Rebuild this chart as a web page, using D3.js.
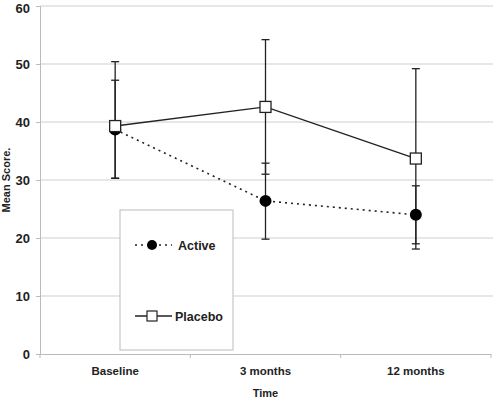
<!DOCTYPE html>
<html>
<head>
<meta charset="utf-8">
<script src="https://cdn.jsdelivr.net/npm/d3@7"></script>
<style>
  body { margin: 0; background: #fff; }
  text { font-family: "Liberation Sans", Arial, sans-serif; font-weight: bold; fill: #222; }
</style>
</head>
<body>
<div id="chart"></div>
<script>
var categories = ["Baseline", "3 months", "12 months"];
var yTicks = [0, 10, 20, 30, 40, 50, 60];

// means and error bar ends
var activeMean  = [38.7, 26.4, 24.0];
var activeLow   = [30.3, 19.8, 19.0];
var activeHigh  = [47.2, 32.9, 29.0];
var placeboMean = [39.3, 42.6, 33.7];
var placeboLow  = [30.3, 31.0, 18.1];
var placeboHigh = [50.4, 54.2, 49.2];

var width = 493, height = 399;
var margin = { top: 6, right: 2, bottom: 45, left: 40 };

var svg = d3.select("#chart").append("svg")
  .attr("width", width)
  .attr("height", height);

var x = d3.scaleBand()
  .domain(categories)
  .range([margin.left, width - margin.right]);

var y = d3.scaleLinear()
  .domain([0, 60])
  .range([height - margin.bottom, margin.top]);

// gridlines
svg.append("g")
  .selectAll("line")
  .data(yTicks.filter(function(d){ return d > 0; }))
  .enter().append("line")
  .attr("x1", margin.left).attr("x2", width)
  .attr("y1", function(d){ return y(d); })
  .attr("y2", function(d){ return y(d); })
  .attr("stroke", "#cfcfcf")
  .attr("stroke-width", 1);

// y axis
var yAxis = svg.append("g")
  .attr("transform", "translate(" + margin.left + ",0)")
  .call(d3.axisLeft(y).tickValues(yTicks).tickSize(4).tickPadding(6));
yAxis.select(".domain").attr("stroke", "#bbb");
yAxis.selectAll(".tick line").attr("stroke", "#bbb");
yAxis.selectAll("text").attr("font-size", "13px").attr("fill", "#222");
// keep the top label inside the picture
yAxis.selectAll("text").filter(function(d){ return d === 60; }).attr("dy", "0.5em");

// x axis
var xAxis = svg.append("g")
  .attr("transform", "translate(0," + y(0) + ")")
  .call(d3.axisBottom(x).tickSize(0).tickPadding(13));
xAxis.select(".domain").attr("stroke", "#bbb");
xAxis.selectAll("text").attr("font-size", "11.5px").attr("fill", "#222");

var bounds = categories.map(function(c){ return x(c); }).concat([x.range()[1]]);
svg.append("g")
  .selectAll("line")
  .data(bounds)
  .enter().append("line")
  .attr("x1", function(d){ return d; }).attr("x2", function(d){ return d; })
  .attr("y1", y(0)).attr("y2", y(0) + 4)
  .attr("stroke", "#bbb");

function cx(i) { return x(categories[i]) + x.bandwidth() / 2; }

// error bars
function errorBars(low, high) {
  var g = svg.append("g").attr("stroke", "#222").attr("stroke-width", 1.3);
  categories.forEach(function(c, i) {
    g.append("line")
      .attr("x1", cx(i)).attr("x2", cx(i))
      .attr("y1", y(low[i])).attr("y2", y(high[i]));
    [low[i], high[i]].forEach(function(v) {
      g.append("line")
        .attr("x1", cx(i) - 4).attr("x2", cx(i) + 4)
        .attr("y1", y(v)).attr("y2", y(v));
    });
  });
}
errorBars(activeLow, activeHigh);
errorBars(placeboLow, placeboHigh);

var line = d3.line()
  .x(function(d, i){ return cx(i); })
  .y(function(d){ return y(d); });

svg.append("path")
  .datum(activeMean)
  .attr("d", line)
  .attr("fill", "none")
  .attr("stroke", "#222")
  .attr("stroke-width", 1.6)
  .attr("stroke-dasharray", "2,4");

svg.append("path")
  .datum(placeboMean)
  .attr("d", line)
  .attr("fill", "none")
  .attr("stroke", "#222")
  .attr("stroke-width", 1.4);

svg.append("g")
  .selectAll("circle")
  .data(activeMean)
  .enter().append("circle")
  .attr("cx", function(d, i){ return cx(i); })
  .attr("cy", function(d){ return y(d); })
  .attr("r", 6)
  .attr("fill", "#000");

svg.append("g")
  .selectAll("rect")
  .data(placeboMean)
  .enter().append("rect")
  .attr("x", function(d, i){ return cx(i) - 5.5; })
  .attr("y", function(d){ return y(d) - 5.5; })
  .attr("width", 11).attr("height", 11)
  .attr("fill", "#fff")
  .attr("stroke", "#222")
  .attr("stroke-width", 1.3);

// legend
var legend = svg.append("g").attr("transform", "translate(120,210)");
legend.append("rect")
  .attr("width", 113).attr("height", 140)
  .attr("fill", "#fff")
  .attr("stroke", "#bbb");

legend.append("line")
  .attr("x1", 15).attr("x2", 52).attr("y1", 35).attr("y2", 35)
  .attr("stroke", "#222").attr("stroke-width", 1.4).attr("stroke-dasharray", "2,4");
legend.append("circle").attr("cx", 32).attr("cy", 35).attr("r", 5).attr("fill", "#000");
legend.append("text").attr("x", 58).attr("y", 40).attr("font-size", "12.5px").text("Active");

legend.append("line")
  .attr("x1", 15).attr("x2", 52).attr("y1", 106).attr("y2", 106)
  .attr("stroke", "#222").attr("stroke-width", 1.3);
legend.append("rect").attr("x", 27).attr("y", 101).attr("width", 10).attr("height", 10)
  .attr("fill", "#fff").attr("stroke", "#222").attr("stroke-width", 1.2);
legend.append("text").attr("x", 55).attr("y", 111).attr("font-size", "12.5px").text("Placebo");

// axis titles
svg.append("text")
  .attr("x", cx(1)).attr("y", 397)
  .attr("text-anchor", "middle")
  .attr("font-size", "11px")
  .text("Time");

svg.append("text")
  .attr("transform", "translate(10," + y(30) + ") rotate(-90)")
  .attr("text-anchor", "middle")
  .attr("font-size", "11px")
  .text("Mean Score.");
</script>
</body>
</html>
